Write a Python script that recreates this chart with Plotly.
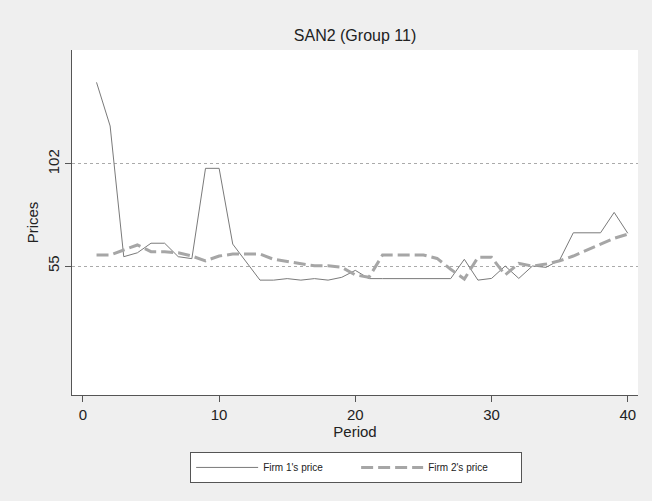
import plotly.graph_objects as go

period = list(range(1, 41))

firm1_price = [139.6, 119.5, 59.3, 61.1, 65.5, 65.5, 59.3, 58.4, 100.0, 100.0,
               65.1, 56.8, 48.5, 48.5, 49.2, 48.5, 49.2, 48.5, 49.8, 53.0,
               49.2, 49.2, 49.2, 49.2, 49.2, 49.2, 49.2, 58.1, 48.5, 49.3,
               55.0, 49.3, 55.0, 54.4, 57.8, 70.3, 70.3, 70.3, 79.7, 70.1]

firm2_price = [60.1, 60.1, 62.4, 64.7, 61.6, 61.6, 61.1, 59.6, 57.4, 59.6,
               60.5, 60.5, 60.5, 58.1, 57.0, 56.2, 55.1, 55.1, 54.4, 50.9,
               49.8, 60.1, 60.1, 60.1, 60.1, 58.5, 53.5, 49.0, 59.0, 59.0,
               50.9, 56.2, 55.0, 55.9, 57.4, 59.6, 62.4, 65.1, 67.8, 69.7]

y_ticks = [55, 102]
x_ticks = [0, 10, 20, 30, 40]

fig = go.Figure()

fig.add_trace(go.Scatter(
    x=period, y=firm1_price,
    mode="lines",
    name="Firm 1's price",
    line=dict(color="#7a7a7a", width=1),
))

fig.add_trace(go.Scatter(
    x=period, y=firm2_price,
    mode="lines",
    name="Firm 2's price",
    line=dict(color="#a6a6a6", width=3, dash="12px,5px"),
))

axis_font = dict(family="Liberation Sans, Arial", size=15, color="#222")

fig.update_layout(
    width=652,
    height=501,
    margin=dict(l=72, r=14, t=50, b=106),
    paper_bgcolor="#efefef",
    plot_bgcolor="white",
    font=dict(family="Liberation Sans, Arial", color="#222"),
    title=dict(text="SAN2 (Group 11)", xref="paper", x=0.5, xanchor="center",
               y=0.93, yanchor="middle",
               font=dict(size=16, color="#222")),
    xaxis=dict(
        range=[-0.8, 40.75],
        tickvals=x_ticks,
        ticks="outside", ticklen=6, tickcolor="#555",
        showline=True, linecolor="#555", linewidth=1,
        showgrid=False, zeroline=False,
        tickfont=axis_font,
        title=dict(text="Period", font=axis_font, standoff=2),
    ),
    yaxis=dict(
        range=[-4.4, 154.5],
        tickvals=y_ticks,
        tickangle=-90,
        ticks="outside", ticklen=6, tickcolor="#555",
        showline=True, linecolor="#555", linewidth=1,
        showgrid=True, gridcolor="#aaa", griddash="dot", gridwidth=1,
        zeroline=False,
        tickfont=axis_font,
        title=dict(text="Prices", font=axis_font, standoff=2),
    ),
    showlegend=True,
    legend=dict(
        orientation="h",
        x=0.502, xanchor="center",
        y=-0.165, yanchor="top",
        bgcolor="white",
        bordercolor="#555",
        borderwidth=1,
        itemwidth=62,
        entrywidth=88,
        font=dict(size=10, color="#222"),
    ),
)

# drop the page's default body margin so the figure sits at the window corner
fig.write_html("out.html", config={"displayModeBar": False},
               post_script="document.body.style.margin='0';")
